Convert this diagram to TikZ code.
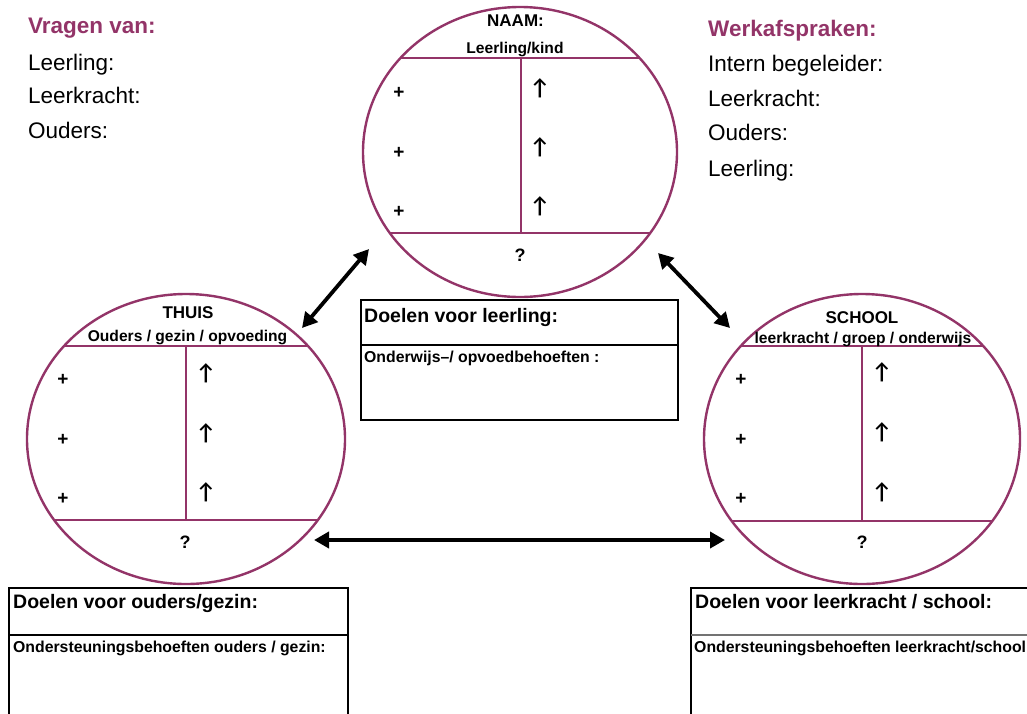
\documentclass[tikz,border=0pt]{standalone}
\usepackage{fontspec}
\setmainfont{Liberation Sans}
\newfontfamily\arrowfont{Lato}
\usetikzlibrary{shapes.geometric,arrows.meta}
\definecolor{plum}{RGB}{147,52,104}
\newcommand{\fs}[1]{\fontsize{#1}{#1}\selectfont}
\begin{document}
\begin{tikzpicture}[x=1pt,y=-1pt,
  ring/.style={draw=plum,line width=2.4pt,ellipse,inner sep=0pt},
  chord/.style={draw=plum,line width=2.4pt},
  title/.style={inner sep=0pt,anchor=base,font=\fs{17}\bfseries},
  subtitle/.style={inner sep=0pt,anchor=base,font=\fs{15.6}\bfseries},
  plus/.style={inner sep=0pt,font=\fs{19}\bfseries},
  uparr/.style={inner sep=0pt,font=\arrowfont\fs{21.5}\bfseries},
  qmark/.style={inner sep=0pt,font=\fs{18}\bfseries},
  head/.style={inner sep=0pt,anchor=base west,text=plum,font=\fs{22.5}\bfseries},
  item/.style={inner sep=0pt,anchor=base west,font=\fs{22.5}},
  boxhead/.style={inner sep=0pt,anchor=base west,font=\fs{19.5}\bfseries},
  boxsub/.style={inner sep=0pt,anchor=base west,font=\fs{15.8}\bfseries},
  frame/.style={draw=black,line width=1.3pt},
  biarrow/.style={{Triangle[length=15pt,width=16pt]}-{Triangle[length=15pt,width=16pt]},line width=3.8pt,draw=black}
]
\useasboundingbox (0,0) rectangle (1027,713);
\clip (0,0) rectangle (1027,713);
\fill[white] (0,0) rectangle (1027,713);

% ---------- top-left / top-right texts
\node[head] (vq) at (28,33) {Vragen van:};
\node[item] (v1) at (28,70) {Leerling:};
\node[item] (v2) at (28,103) {Leerkracht:};
\node[item] (v3) at (28,138) {Ouders:};

\node[head] (wa) at (708,36) {Werkafspraken:};
\node[item] (w1) at (708,71) {Intern begeleider:};
\node[item] (w2) at (708,106) {Leerkracht:};
\node[item] (w3) at (708,140) {Ouders:};
\node[item] (w4) at (708,176) {Leerling:};

% ---------- top circle (NAAM)
\begin{scope}
  \clip (520,152) ellipse [x radius=157pt,y radius=145pt];
  \draw[chord] (350,58) -- (690,58);
  \draw[chord] (350,233) -- (690,233);
  \draw[chord] (521,58) -- (521,233);
\end{scope}
\node[ring,minimum width=314pt,minimum height=290pt] (top) at (520,152) {};
\node[title] (topt) at (515.5,26) {NAAM:};
\node[subtitle] (tops) at (515,53) {Leerling/kind};
\node[plus] (tp1) at (399,93) {+};
\node[plus] (tp2) at (399,153) {+};
\node[plus] (tp3) at (399,212) {+};
\node[uparr] (ta1) at (540,88) {↑};
\node[uparr] (ta2) at (540,147) {↑};
\node[uparr] (ta3) at (540,206) {↑};
\node[qmark] (tq) at (520,255) {?};

% ---------- left circle (THUIS)
\begin{scope}
  \clip (186,439) ellipse [x radius=159pt,y radius=145pt];
  \draw[chord] (20,346) -- (350,346);
  \draw[chord] (20,520) -- (350,520);
  \draw[chord] (186,346) -- (186,520);
\end{scope}
\node[ring,minimum width=318pt,minimum height=290pt] (home) at (186,439) {};
\node[title] (homet) at (188,318) {THUIS};
\node[subtitle] (homes) at (187.5,341) {Ouders / gezin / opvoeding};
\node[plus] (hp1) at (63,380) {+};
\node[plus] (hp2) at (63,440) {+};
\node[plus] (hp3) at (63,499) {+};
\node[uparr] (ha1) at (206,373) {↑};
\node[uparr] (ha2) at (206,433) {↑};
\node[uparr] (ha3) at (206,492) {↑};
\node[qmark] (hq) at (185,542) {?};

% ---------- right circle (SCHOOL)
\begin{scope}
  \clip (862,439) ellipse [x radius=158pt,y radius=145pt];
  \draw[chord] (690,346) -- (1030,346);
  \draw[chord] (690,521) -- (1030,521);
  \draw[chord] (862,346) -- (862,521);
\end{scope}
\node[ring,minimum width=316pt,minimum height=290pt] (school) at (862,439) {};
\node[title] (schoolt) at (862,323) {SCHOOL};
\node[subtitle] (schools) at (863,343) {leerkracht / groep / onderwijs};
\node[plus] (sp1) at (741,380) {+};
\node[plus] (sp2) at (741,440) {+};
\node[plus] (sp3) at (741,499) {+};
\node[uparr] (sa1) at (882,372) {↑};
\node[uparr] (sa2) at (882,432) {↑};
\node[uparr] (sa3) at (882,492) {↑};
\node[qmark] (sq) at (862,542) {?};

% ---------- arrows
\coordinate (a1s) at (302,328);
\coordinate (a1e) at (369,249);
\coordinate (a2s) at (658,253);
\coordinate (a2e) at (730,328);
\coordinate (a3s) at (314,540);
\coordinate (a3e) at (725,540);
\draw[biarrow] (a1s) -- (a1e);
\draw[biarrow] (a2s) -- (a2e);
\draw[biarrow] (a3s) -- (a3e);

% ---------- centre box
\draw[frame] (361,300) rectangle (678,420);
\draw[frame] (361,345) -- (678,345);
\node[boxhead] (cb1) at (364,322) {Doelen voor leerling:};
\node[boxsub] (cb2) at (364,362) {Onderwijs–/ opvoedbehoeften :};

% ---------- bottom-left box
\draw[frame] (9,588) rectangle (348,730);
\draw[frame] (9,635) -- (348,635);
\node[boxhead] (lb1) at (13,608) {Doelen voor ouders/gezin:};
\node[boxsub] (lb2) at (13,652) {Ondersteuningsbehoeften ouders / gezin:};

% ---------- bottom-right box
\draw[frame] (691,588) rectangle (1040,730);
\draw[draw=black!55,line width=1.3pt] (691,635) -- (1040,635);
\node[boxhead] (rb1) at (695,608) {Doelen voor leerkracht / school:};
\node[boxsub] (rb2) at (694,652) {Ondersteuningsbehoeften leerkracht/school};
\end{tikzpicture}
\end{document}
